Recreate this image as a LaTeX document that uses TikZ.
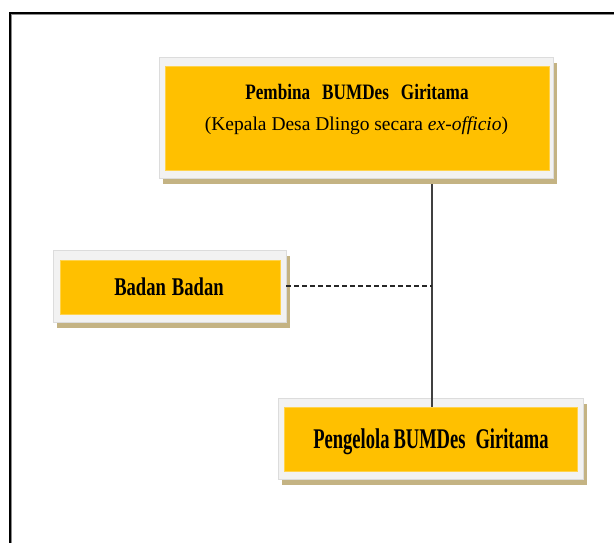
\documentclass[tikz,border=0pt]{standalone}
\usepackage{fontspec}
\setmainfont{Liberation Serif}
\newfontfamily\condA[FakeStretch=0.78]{Liberation Serif}
\newfontfamily\condB[FakeStretch=0.73]{Liberation Serif}
\newfontfamily\condC[FakeStretch=0.65]{Liberation Serif}
\usetikzlibrary{shadows}
\definecolor{orng}{HTML}{FFC000}
\definecolor{pale}{HTML}{F2F2F2}
\definecolor{paleedge}{HTML}{DCDCDC}
\definecolor{shade}{HTML}{C4B383}
\definecolor{frameg}{HTML}{8C8C8C}
\tikzset{
  outerbox/.style={draw=paleedge, fill=pale, line width=0.6pt, inner sep=0pt,
    drop shadow={shadow xshift=4pt, shadow yshift=-6pt, fill=shade, opacity=1}},
  innerbox/.style={draw=orng!70!white, fill=orng, line width=0.5pt, inner sep=0pt},
  lbl/.style={anchor=base, inner sep=0pt},
  plainlabel/.style={font=\fontsize{19.5}{22}\selectfont, anchor=base, inner sep=0pt},
  link/.style={draw=black!75, line width=1.2pt},
  dashlink/.style={draw=black!85, line width=1.1pt, dash pattern=on 5pt off 3pt}
}
\begin{document}
\begin{tikzpicture}[x=1pt,y=-1pt]
\useasboundingbox (0,0) rectangle (614,543);
\fill[white] (0,0) rectangle (614,543);
% page frame
\draw[frameg, line width=0.8pt] (11.5,543) -- (11.5,14.5) -- (614,14.5);
\draw[black, line width=1.3pt] (10,543) -- (10,13) -- (614,13);
% top box
\node[outerbox, minimum width=394pt, minimum height=121pt] (pemb) at (356,117.5) {};
\node[innerbox, minimum width=384pt, minimum height=104pt] (pembIn) at (357,118) {};
\node[lbl, font=\condA\bfseries\fontsize{22}{24}\selectfont] (pembA) at (357,100) {Pembina\hspace{12pt}BUMDes\hspace{12pt}Giritama};
\node[plainlabel] (pembB) at (356.5,131) {(Kepala Desa Dlingo secara \textit{ex-officio})};
% left box
\node[outerbox, minimum width=233pt, minimum height=72pt] (badan) at (169.5,286) {};
\node[innerbox, minimum width=220pt, minimum height=54pt] (badanIn) at (170,287) {};
\node[lbl, font=\condB\bfseries\fontsize{25.5}{28}\selectfont] (badanA) at (169,295) {Badan\hspace{6pt}Badan};
% bottom box
\node[outerbox, minimum width=305pt, minimum height=81pt] (peng) at (430.5,438.5) {};
\node[innerbox, minimum width=293pt, minimum height=64pt] (pengIn) at (430.5,439) {};
\node[lbl, font=\condC\bfseries\fontsize{28.5}{31}\selectfont] (pengA) at (431,448) {Pengelola\hspace{4pt}BUMDes\hspace{10pt}Giritama};
% connectors
\coordinate (jn) at ([xshift=1.5pt]pemb.south -| peng.north);
\coordinate (mid) at ([xshift=1.5pt]peng.north |- badan.east);
\draw[link] ([yshift=-6pt]jn) -- (jn |- pengIn.north);
\draw[dashlink] (badan.east) -- (mid);
\end{tikzpicture}
\end{document}
